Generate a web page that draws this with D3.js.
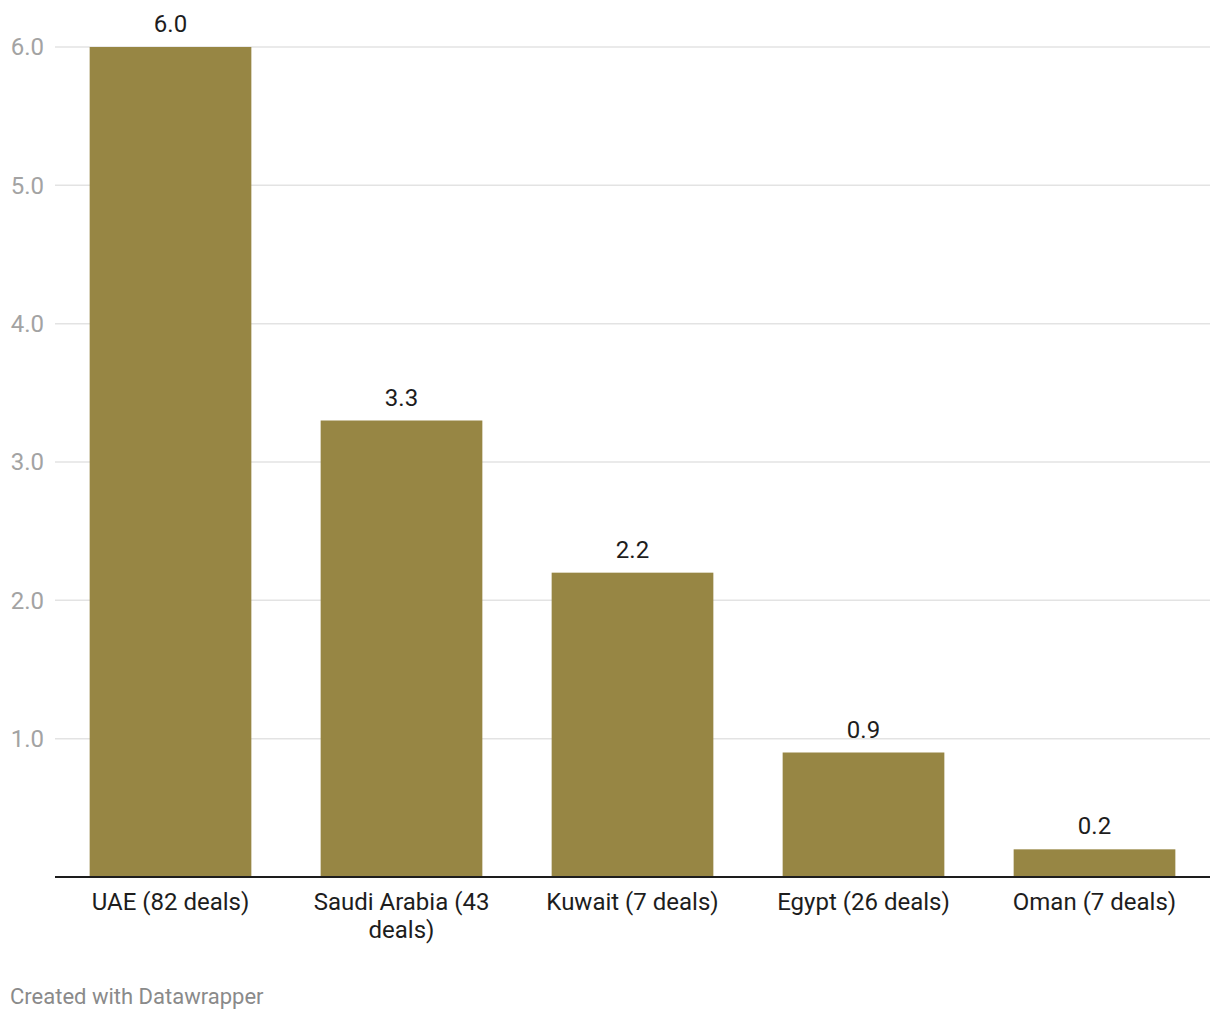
<!DOCTYPE html>
<html><head><meta charset="utf-8">
<script src="https://cdn.jsdelivr.net/npm/d3@7"></script>
<style>body{margin:0;background:#fff;font-family:Roboto,sans-serif;}</style>
</head><body>
<svg id="c" width="1220" height="1020"></svg>
<script>
const categories = ["UAE (82 deals)", "Saudi Arabia (43 deals)", "Kuwait (7 deals)", "Egypt (26 deals)", "Oman (7 deals)"];
const values = [6.0, 3.3, 2.2, 0.9, 0.2];
const yTicks = [1, 2, 3, 4, 5, 6];

const svg = d3.select("#c");
const plotLeft = 55, plotRight = 1210, plotTop = 47, plotBottom = 877;
const x = d3.scaleBand().domain(categories).range([plotLeft, plotRight]).paddingInner(0.3).paddingOuter(0.15);
const y = d3.scaleLinear().domain([0, 6]).range([plotBottom, plotTop]);

// gridlines
svg.append("g").selectAll("line").data(yTicks).join("line")
  .attr("x1", plotLeft).attr("x2", plotRight)
  .attr("y1", d => y(d)).attr("y2", d => y(d))
  .attr("stroke", "#e3e3e3").attr("stroke-width", 1.5);

svg.append("g").selectAll("text").data(yTicks).join("text")
  .attr("x", 44).attr("y", d => y(d)).attr("dy", "0.35em")
  .attr("text-anchor", "end").attr("fill", "#a3a3a3")
  .style("font-size", "24px").text(d3.format(".1f"));

// bars
svg.append("g").selectAll("rect").data(values).join("rect")
  .attr("x", (d, i) => x(categories[i])).attr("width", x.bandwidth())
  .attr("y", d => y(d)).attr("height", d => plotBottom - y(d))
  .attr("fill", "#978644");

// value labels
svg.append("g").selectAll("text").data(values).join("text")
  .attr("x", (d, i) => x(categories[i]) + x.bandwidth() / 2)
  .attr("y", d => y(d) - 15)
  .attr("text-anchor", "middle").attr("fill", "#1d1d1d")
  .style("font-size", "24px").text(d3.format(".1f"));

// baseline
svg.append("line").attr("x1", plotLeft).attr("x2", plotRight)
  .attr("y1", plotBottom).attr("y2", plotBottom)
  .attr("stroke", "#1d1d1d").attr("stroke-width", 2);

// x labels with wrapping
const xl = svg.append("g").selectAll("text").data(categories).join("text")
  .attr("x", d => x(d) + x.bandwidth() / 2)
  .attr("y", 910)
  .attr("text-anchor", "middle").attr("fill", "#1d1d1d")
  .style("font-size", "24px");
xl.each(function(d) {
  const t = d3.select(this);
  const maxW = 205;
  const words = d.split(" ");
  let lines = [], line = [];
  const tmp = t.append("tspan");
  for (const w of words) {
    line.push(w);
    tmp.text(line.join(" "));
    if (tmp.node().getComputedTextLength() > maxW && line.length > 1) {
      line.pop(); lines.push(line.join(" ")); line = [w];
    }
  }
  lines.push(line.join(" "));
  tmp.remove();
  lines.forEach((l, i) => {
    t.append("tspan").attr("x", t.attr("x")).attr("dy", i === 0 ? 0 : 28).text(l);
  });
});

svg.append("text").attr("x", 10).attr("y", 1004)
  .attr("fill", "#8a8a8a").style("font-size", "22px").text("Created with Datawrapper");
</script>
</body></html>
